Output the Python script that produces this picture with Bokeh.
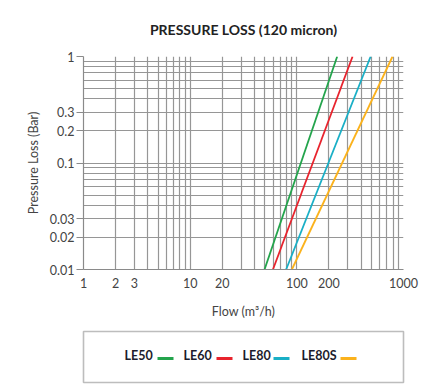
from bokeh.plotting import figure
from bokeh.layouts import column
from bokeh.models import FixedTicker, Range1d
from bokeh.embed import file_html
from bokeh.resources import INLINE
from bokeh.core.properties import value

# ---- data ----
series = ["LE50", "LE60", "LE80", "LE80S"]
colors = ["#23a44c", "#e8232d", "#19afc6", "#fbb21c"]
pressure = [0.01, 1.0]            # Bar
flow_le50 = [49.8, 239.0]         # m3/h
flow_le60 = [59.7, 333.0]
flow_le80 = [79.4, 492.0]
flow_le80s = [89.8, 789.0]
flows = [flow_le50, flow_le60, flow_le80, flow_le80s]

x_tick_vals = [1, 2, 3, 10, 20, 100, 200, 1000]
y_tick_vals = [0.01, 0.02, 0.03, 0.1, 0.2, 0.3, 1]
x_grid_vals = [m * 10 ** e for e in range(0, 3) for m in range(1, 10)] + [1000]
y_grid_vals = [m * 10 ** e for e in range(-2, 0) for m in range(1, 10)] + [1]

FONT = "Lato"
BL, FW, BR = 83, 320, 27

p = figure(frame_width=FW, frame_height=213, x_axis_type="log", y_axis_type="log",
           x_range=Range1d(1, 1000), y_range=Range1d(0.01, 1),
           output_backend="svg", toolbar_location=None,
           min_border_left=BL, min_border_right=BR, min_border_top=56, min_border_bottom=60,
           title="PRESSURE LOSS (120 micron)")
p.outline_line_color = None
p.title.align = "center"
p.title.text_font = FONT
p.title.text_font_size = "14px"
p.title.text_font_style = "bold"
p.title.text_color = "#222222"
p.title.vertical_align = "top"
p.title.standoff = 34

for ax in (p.xaxis, p.yaxis):
    ax.major_label_text_font = FONT
    ax.major_label_text_font_size = "12.5px"
    ax.major_label_text_color = "#444444"
    ax.axis_label_text_font = FONT
    ax.axis_label_text_font_size = "12.5px"
    ax.axis_label_text_font_style = "normal"
    ax.axis_label_text_color = "#444444"
    ax.axis_line_color = "#8a8a8a"
    ax.axis_line_width = 1.2
    ax.minor_tick_line_color = None
    ax.major_tick_in = 0

p.xaxis.ticker = FixedTicker(ticks=x_tick_vals)
p.yaxis.ticker = FixedTicker(ticks=y_tick_vals)
p.xaxis.major_label_overrides = {v: str(v) for v in x_tick_vals}
p.yaxis.major_label_overrides = {v: ("1" if v == 1 else str(v)) for v in y_tick_vals}
p.xaxis.major_tick_out = 0
p.xaxis.major_label_standoff = 8
p.xaxis.axis_label = "Flow (m³/h)"
p.xaxis.axis_label_standoff = 13
p.yaxis.major_tick_out = 7
p.yaxis.major_tick_line_color = "#8a8a8a"
p.yaxis.major_tick_line_width = 1.2
p.yaxis.major_label_standoff = 2
p.yaxis.axis_label = "Pressure Loss (Bar)"
p.yaxis.axis_label_standoff = 6

p.xgrid.ticker = FixedTicker(ticks=x_grid_vals)
p.ygrid.ticker = FixedTicker(ticks=y_grid_vals)
for g in (p.xgrid, p.ygrid):
    g.grid_line_color = "#969696"
    g.grid_line_width = 1.2

for name, col, fl in zip(series, colors, flows):
    p.line(fl, pressure, line_color=col, line_width=1.8)

# ---- legend panel (coordinates in pixels of its own frame; frame outline = legend box) ----
H = 51
lg = figure(frame_width=FW, frame_height=H, x_range=Range1d(0, FW), y_range=Range1d(0, H),
            output_backend="svg", toolbar_location=None,
            x_axis_location=None, y_axis_location=None,
            min_border_left=BL, min_border_right=BR, min_border_top=2, min_border_bottom=2)
lg.grid.visible = False
lg.outline_line_color = "#bdbdbd"
lg.outline_line_width = 1.6
text_x = [41, 100, 159, 218]
sw_x0 = [74, 133, 190, 257]
sw_w = 16
ty = 27
lg.text(x=text_x, y=[ty] * 4, text=series, text_font=value(FONT), text_font_size="12.5px",
        text_font_style="bold", text_color="#1c1c2c", text_baseline="middle", text_align="left")
lg.segment(x0=sw_x0, y0=[ty - 3] * 4, x1=[v + sw_w for v in sw_x0], y1=[ty - 3] * 4,
           line_color=colors, line_width=3)

open("out.html", "w").write(file_html(column(p, lg, spacing=0), INLINE))
